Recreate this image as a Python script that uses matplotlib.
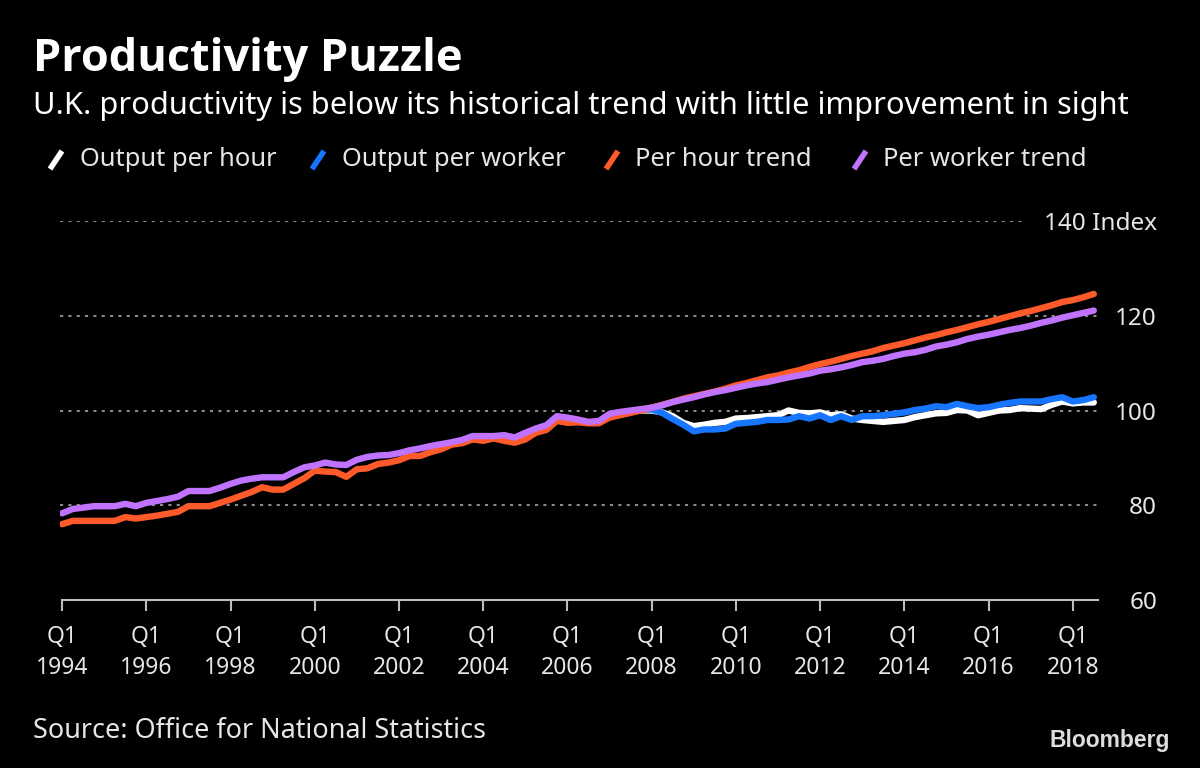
import matplotlib
matplotlib.use("Agg")
import matplotlib.pyplot as plt
from matplotlib.lines import Line2D

# ---------------- data (quarterly index, Q1 1994 .. Q3 2018) ----------------
start_year = 1994
per_hour_trend = [
    76.0, 76.7, 76.7, 76.7, 76.7, 76.7, 77.5, 77.2, 77.5, 77.8,
    78.2, 78.6, 79.8, 79.8, 79.8, 80.5, 81.2, 82.0, 82.8, 83.8,
    83.3, 83.3, 84.5, 85.7, 87.3, 87.1, 87.0, 86.0, 87.6, 87.8,
    88.7, 89.0, 89.5, 90.4, 90.4, 91.2, 91.8, 92.8, 93.1, 93.9,
    93.6, 94.1, 93.6, 93.2, 93.9, 95.3, 95.9, 97.8, 97.4, 97.5,
    97.3, 97.3, 98.5, 99.0, 99.5, 100.0, 100.6, 101.2, 101.8, 102.5,
    103.0, 103.5, 104.0, 104.6, 105.3, 105.8, 106.4, 107.0, 107.4, 108.0,
    108.5, 109.2, 109.8, 110.3, 110.9, 111.5, 112.0, 112.5, 113.2, 113.7,
    114.2, 114.8, 115.4, 115.9, 116.5, 117.0, 117.6, 118.2, 118.7, 119.3,
    119.9, 120.5, 121.0, 121.6, 122.2, 122.9, 123.3, 123.9, 124.6,
]
per_worker_trend = [
    78.3, 79.2, 79.5, 79.8, 79.8, 79.8, 80.3, 79.8, 80.5, 80.9,
    81.3, 81.8, 83.0, 83.0, 83.0, 83.7, 84.5, 85.2, 85.6, 85.9,
    85.9, 85.9, 87.0, 88.0, 88.4, 89.0, 88.6, 88.5, 89.6, 90.2,
    90.5, 90.6, 91.0, 91.6, 92.0, 92.5, 92.9, 93.3, 93.8, 94.6,
    94.6, 94.6, 94.8, 94.3, 95.3, 96.2, 96.9, 98.8, 98.5, 98.1,
    97.6, 97.8, 99.3, 99.7, 100.0, 100.3, 100.6, 101.1, 101.8, 102.3,
    102.8, 103.4, 103.9, 104.3, 104.8, 105.3, 105.7, 106.0, 106.5, 107.0,
    107.4, 107.8, 108.4, 108.7, 109.1, 109.6, 110.2, 110.5, 110.9, 111.5,
    112.0, 112.3, 112.8, 113.5, 113.9, 114.4, 115.1, 115.6, 116.0, 116.5,
    117.0, 117.4, 117.9, 118.5, 119.0, 119.6, 120.1, 120.6, 121.1,
]
# actual series shown from Q4 2007 onward (index 55)
actual_start = 55
output_per_hour = [
    100.0, 100.0, 99.6, 98.8, 97.4, 96.7, 97.0, 97.4, 97.6, 98.3,
    98.4, 98.6, 98.8, 99.0, 100.0, 99.5, 99.4, 99.6, 99.0, 99.2,
    98.3, 98.0, 97.8, 97.6, 97.8, 98.0, 98.6, 99.0, 99.4, 99.5,
    100.1, 100.0, 99.0, 99.5, 100.0, 100.1, 100.5, 100.4, 100.3, 101.2,
    101.9, 101.5, 101.7, 101.7,
]
output_per_worker = [
    100.2, 100.2, 99.5, 98.2, 97.0, 95.6, 96.0, 96.0, 96.2, 97.2,
    97.4, 97.6, 98.0, 98.0, 98.1, 98.8, 98.3, 99.0, 98.0, 98.8,
    98.0, 98.8, 98.8, 99.0, 99.3, 99.6, 100.1, 100.4, 100.9, 100.7,
    101.4, 100.9, 100.5, 100.7, 101.2, 101.6, 101.9, 101.9, 101.9, 102.4,
    102.8, 101.9, 102.2, 102.8,
]
series_names = ["Output per hour", "Output per worker", "Per hour trend", "Per worker trend"]
series_colors = ["#ffffff", "#1776ff", "#ff5a2a", "#c073ff"]
y_ticks = [60, 80, 100, 120, 140]
y_tick_labels = ["60", "80", "100", "120", "140 Index"]
x_tick_years = list(range(1994, 2019, 2))

# ---------------- figure ----------------
W, H = 1200, 768
fig = plt.figure(figsize=(W / 100, H / 100), dpi=100, facecolor="black")
FONT = "Noto Sans"
TXT = "#e6e6e6"

def fx(px):
    return px / W

def fy(py):
    return 1 - py / H

ax = fig.add_axes([fx(60), fy(600), fx(1098) - fx(60), fy(221) - fy(600)])
ax.set_facecolor("black")

n_trend = len(per_hour_trend)
x_trend = list(range(n_trend))
x_act = list(range(actual_start, actual_start + len(output_per_hour)))

lw = 4.6
kw = dict(lw=lw, solid_capstyle="round", solid_joinstyle="round")
ax.plot(x_act, output_per_hour, color=series_colors[0], zorder=3, **kw)
ax.plot(x_act, output_per_worker, color=series_colors[1], zorder=4, **kw)
ax.plot(x_trend, per_hour_trend, color=series_colors[2], zorder=5, **kw)
ax.plot(x_trend, per_worker_trend, color=series_colors[3], zorder=6, **kw)

ax.set_xlim(-0.2, 98.4)
ax.set_ylim(60, 140)

for s in ["top", "right", "left"]:
    ax.spines[s].set_visible(False)
ax.spines["bottom"].set_color("#bdbdbd")
ax.spines["bottom"].set_linewidth(1.5)
ax.spines["bottom"].set_bounds(0, 98.4)

# gridlines
for v in y_ticks[1:]:
    ax.axhline(v, color="#8a8a8a", lw=1.5, ls=(0, (1.5, 2.5)), zorder=1)

# x ticks
xt = [(y - start_year) * 4 for y in x_tick_years]
ax.set_xticks(xt)
ax.set_xticklabels([f"Q1\n{y}" for y in x_tick_years], fontfamily=FONT, fontsize=16.5,
                   color=TXT, linespacing=1.4)
ax.tick_params(axis="x", direction="out", length=8, width=1.5, color="#bdbdbd", pad=10)

# y ticks on right
ax.yaxis.tick_right()
ax.set_yticks(y_ticks)
ax.set_yticklabels(y_tick_labels, fontfamily=FONT, fontsize=17.5, color=TXT)
ax.tick_params(axis="y", length=0, pad=42.5)
for lab in ax.get_yticklabels():
    lab.set_horizontalalignment("right")
ax.get_yticklabels()[-1].set_bbox(dict(facecolor="black", edgecolor="none", pad=13))

# titles
fig.text(fx(33), fy(59), "Productivity Puzzle", fontfamily="Open Sans", fontweight="bold",
         fontsize=32.5, color="white", va="center", ha="left")
fig.text(fx(33), fy(106), "U.K. productivity is below its historical trend with little improvement in sight",
         fontfamily=FONT, fontsize=22.2, color="white", va="center", ha="left")

# legend
leg_marker_x = [48, 310, 604, 852]
leg_text_x = [80, 342, 635, 883]
for name, col, mx, tx in zip(series_names, series_colors, leg_marker_x, leg_text_x):
    fig.add_artist(Line2D([fx(mx + 2), fx(mx + 14)], [fy(169), fy(151)], color=col, lw=4,
                          solid_capstyle="butt", transform=fig.transFigure))
    fig.text(fx(tx), fy(160), name, fontfamily=FONT, fontsize=18.4, color=TXT,
             va="center", ha="left")

# footer
fig.text(fx(33), fy(731), "Source: Office for National Statistics", fontfamily=FONT,
         fontsize=19.4, color=TXT, va="center", ha="left")
fig.text(fx(1170), fy(741), "Bloomberg", fontfamily="Liberation Sans", fontweight="bold",
         fontsize=16.5, color="#dddddd", va="center", ha="right")

fig.savefig("out.png", dpi=100, facecolor="black")
